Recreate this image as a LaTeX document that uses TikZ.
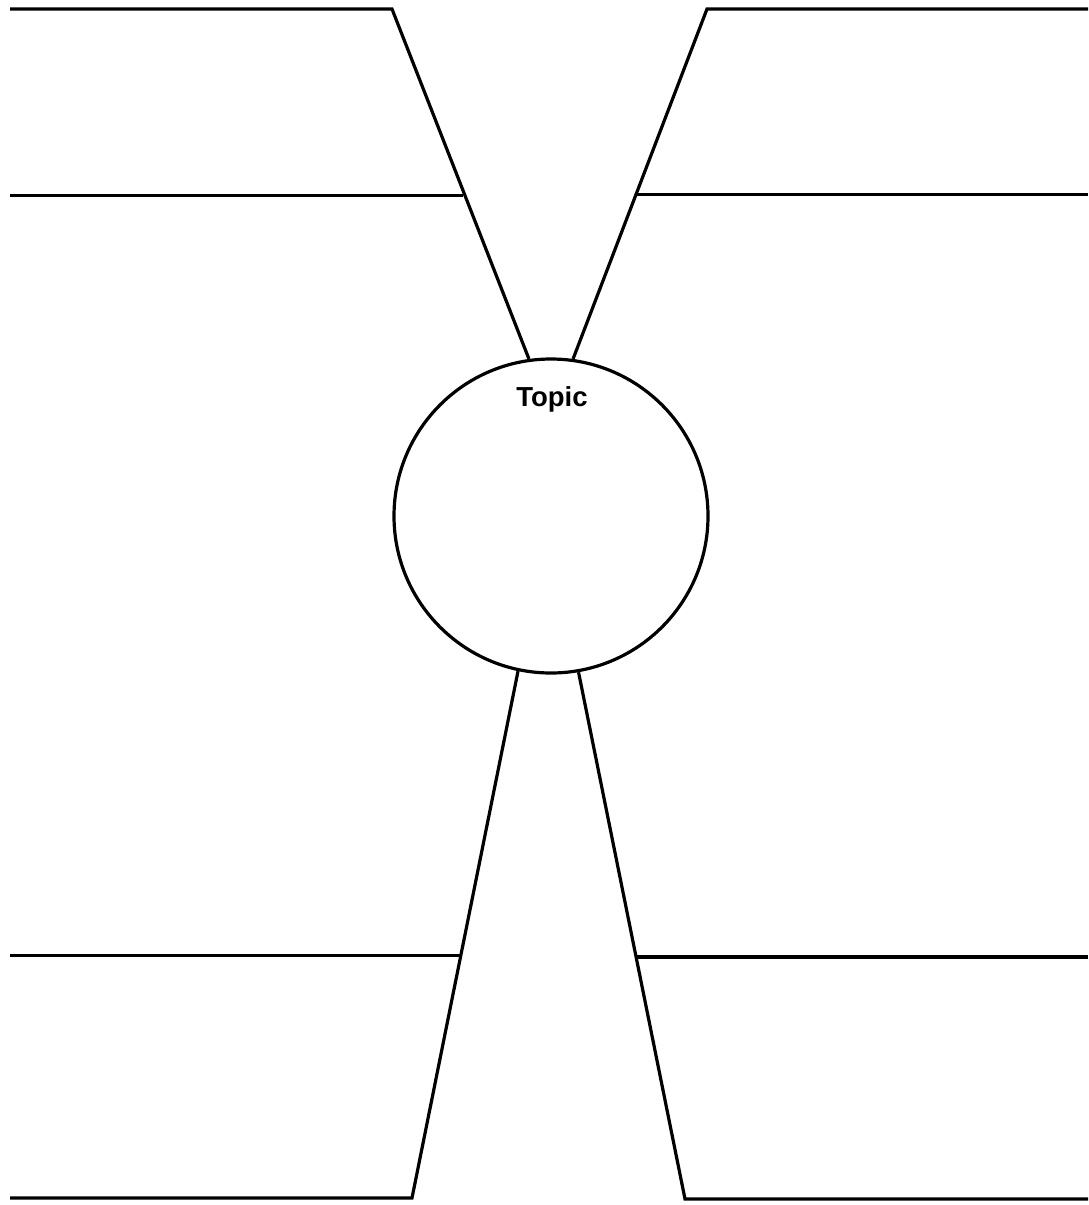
\documentclass[tikz,border=0pt]{standalone}
\usepackage{fontspec}
\setmainfont{Liberation Sans}
\begin{document}
\begin{tikzpicture}[x=1pt,y=-1pt,
  ln/.style={line width=3.2pt, line join=miter},
  topic/.style={draw, circle, line width=3.2pt, minimum size=314pt, inner sep=0pt},
  lbl/.style={font=\bfseries\fontsize{27.5}{32}\selectfont, anchor=base, inner sep=0pt}]
\useasboundingbox (0,0) rectangle (1088,1205);
\node[topic] (c) at (551,516) {};
\node[lbl] (t) at (552,406) {Topic};
% corners and free ends
\coordinate (tlA) at (10,9);
\coordinate (tlB) at (392,9);
\coordinate (tlC) at (10,195.5);
\coordinate (tlD) at (463,195.5);
\coordinate (trA) at (1088,9);
\coordinate (trB) at (707,9);
\coordinate (trC) at (1088,194.5);
\coordinate (trD) at (636,194.5);
\coordinate (blA) at (10,955.5);
\coordinate (blB) at (461.5,955.5);
\coordinate (blC) at (10,1198);
\coordinate (blD) at (412,1198);
\coordinate (brA) at (1088,957);
\coordinate (brB) at (637,957);
\coordinate (brC) at (1088,1199);
\coordinate (brD) at (685,1199);
% connectors
\draw[ln] (tlA) -- (tlB) -- (c.98.9);
\draw[ln] (tlC) -- (tlD);
\draw[ln] (trA) -- (trB) -- (c.82.6);
\draw[ln] (trC) -- (trD);
\draw[ln] (blC) -- (blD) -- (c.258.8);
\draw[ln] (blA) -- (blB);
\draw[ln] (brC) -- (brD) -- (c.280.2);
\draw[ln] (brA) -- (brB);
\end{tikzpicture}
\end{document}
